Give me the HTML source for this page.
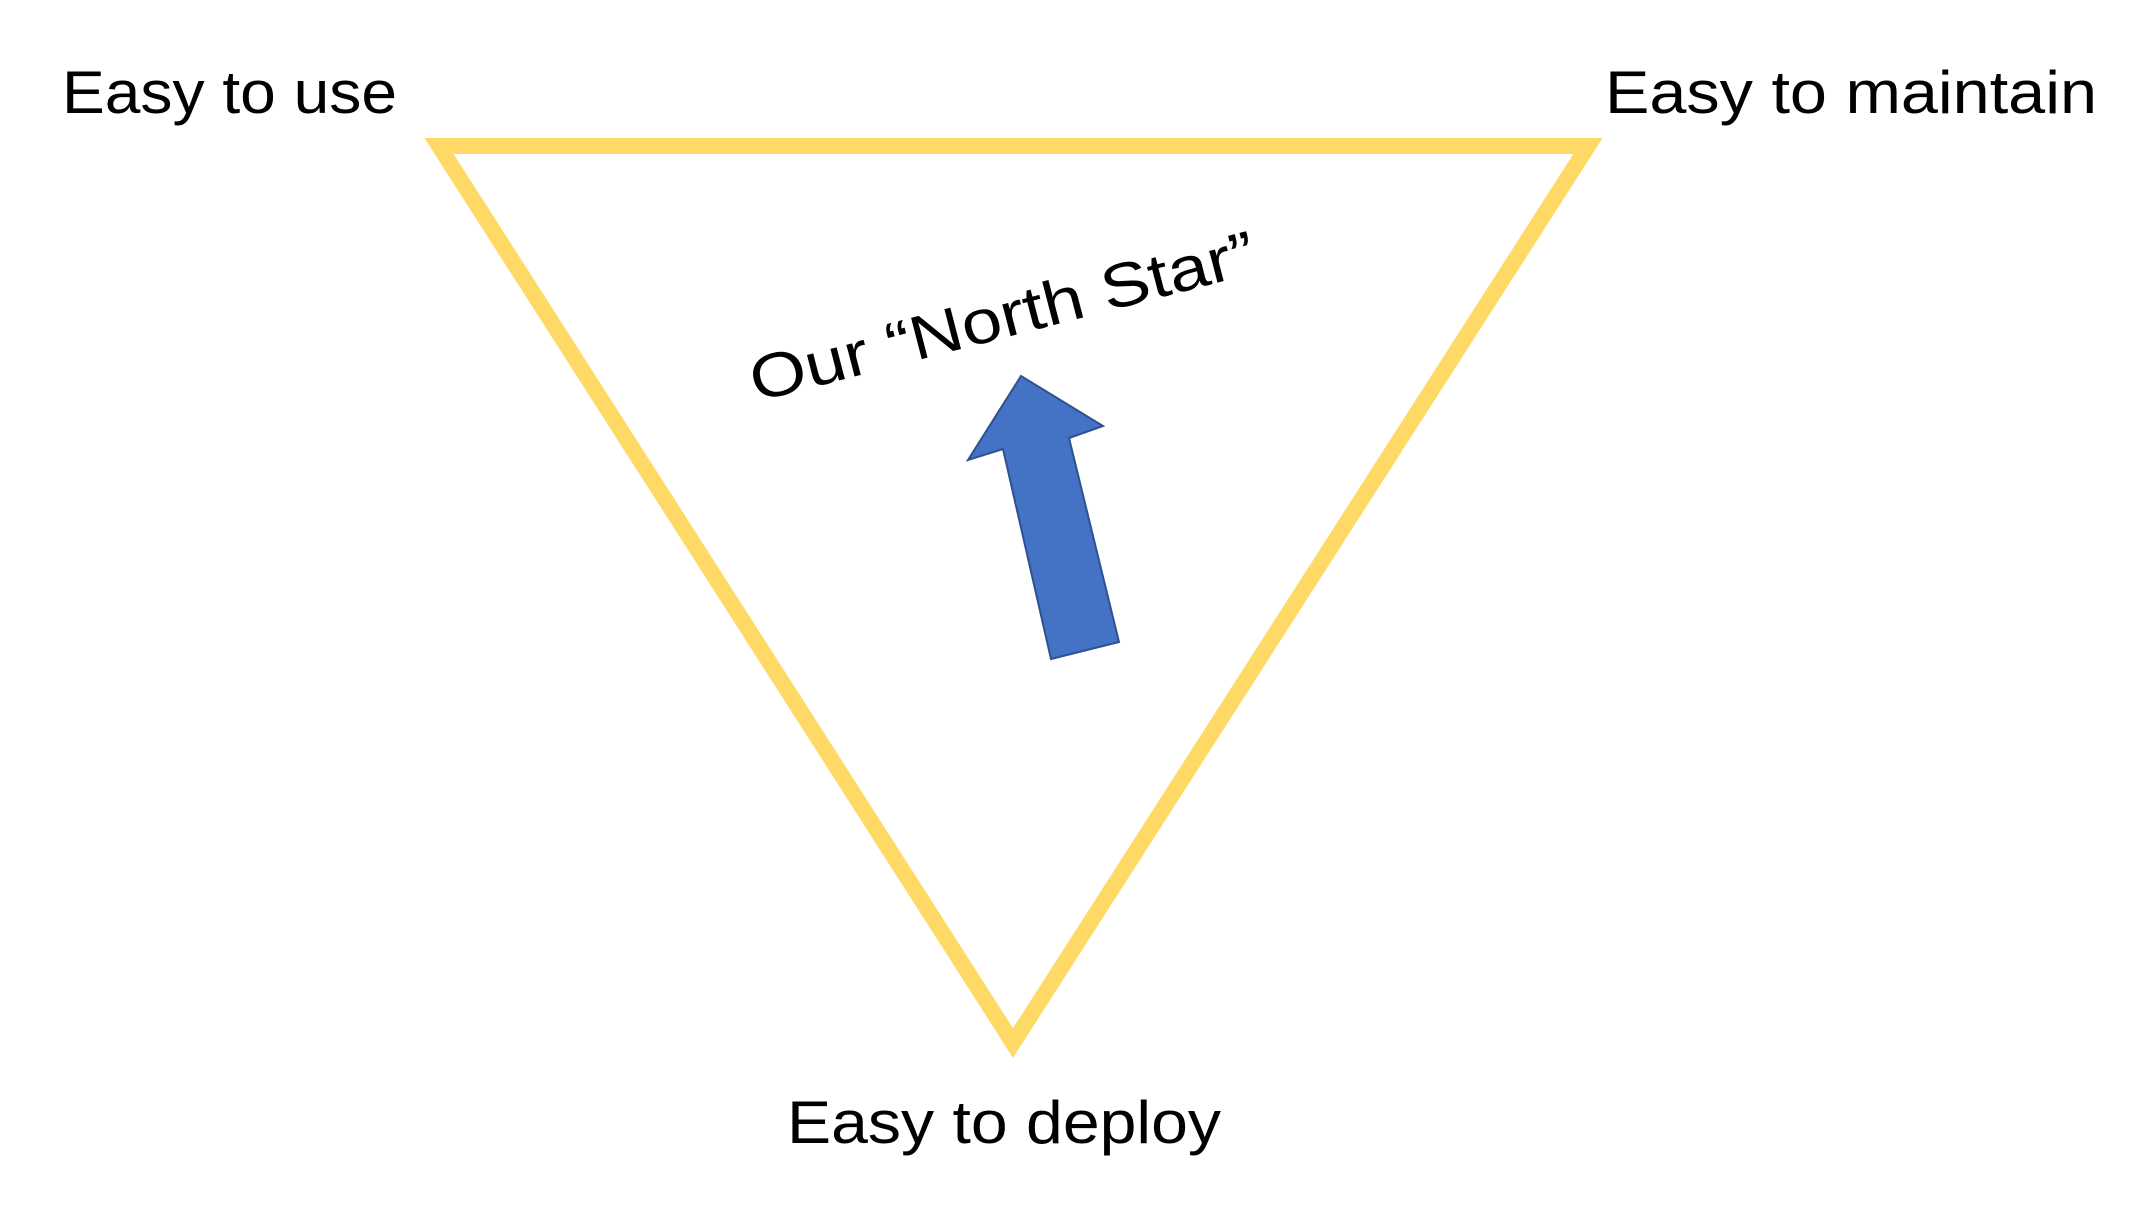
<!DOCTYPE html>
<html><head><meta charset="utf-8"><style>
html,body{margin:0;padding:0;background:#fff;}
svg{display:block;}
text{font-family:"Liberation Sans",sans-serif;fill:#000;}
</style></head><body>
<svg width="2149" height="1206" viewBox="0 0 2149 1206" xmlns="http://www.w3.org/2000/svg">
<rect width="2149" height="1206" fill="#fff"/>
<polygon points="439,146 1588,146 1013,1043" fill="none" stroke="#FFD966" stroke-width="16" stroke-linejoin="miter"/>
<polygon points="1021,376 1103,426 1069,438 1119,642 1051,659 1003,449 968,460" fill="#4472C4" stroke="#2F528F" stroke-width="2"/>
<text x="62" y="113" font-size="60" textLength="335" lengthAdjust="spacingAndGlyphs">Easy to use</text>
<text x="1605" y="113" font-size="60" textLength="492" lengthAdjust="spacingAndGlyphs">Easy to maintain</text>
<text x="787" y="1143" font-size="60" textLength="434" lengthAdjust="spacingAndGlyphs">Easy to deploy</text>
<text x="0" y="0" font-size="62" textLength="520" lengthAdjust="spacingAndGlyphs" transform="translate(756,402) rotate(-14.5)">Our “North Star”</text>
</svg>
</body></html>
